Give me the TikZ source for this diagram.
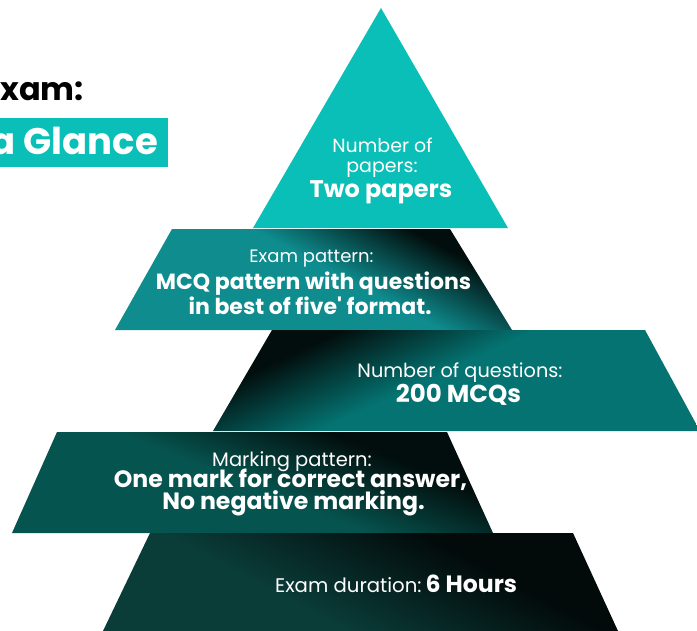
\documentclass[tikz,border=0pt]{standalone}
\usepackage{fontspec}
\setmainfont{Poppins}
\definecolor{tealA}{HTML}{09BFB7}
\definecolor{tealB}{HTML}{0E8C8E}
\definecolor{tealC}{HTML}{047371}
\definecolor{tealD}{HTML}{06544F}
\definecolor{tealE}{HTML}{0A3C38}
\definecolor{darkT}{HTML}{020E0D}
\definecolor{darkE}{HTML}{020A0A}
\pgfdeclarehorizontalshading{shB}{100bp}{color(0bp)=(tealB); color(54bp)=(tealB); color(72bp)=(darkT); color(100bp)=(darkT)}
\pgfdeclarehorizontalshading{shC}{100bp}{color(0bp)=(tealC); color(53bp)=(tealC); color(71bp)=(darkT); color(100bp)=(darkT)}
\pgfdeclarehorizontalshading{shD}{100bp}{color(0bp)=(tealD); color(49bp)=(tealD); color(68bp)=(darkT); color(100bp)=(darkT)}
\pgfdeclarehorizontalshading{shE}{100bp}{color(0bp)=(tealE); color(40bp)=(tealE); color(65bp)=(darkE); color(100bp)=(darkE)}
\newcommand{\fs}[1]{\fontsize{#1}{#1}\selectfont}
\begin{document}
\begin{tikzpicture}[x=1pt,y=-1pt,
  txt/.style={text=white,inner sep=0pt,anchor=base}]
\useasboundingbox (0,0) rectangle (697,630);
\fill[white] (0,0) rectangle (697,630);
% title
\node[anchor=base west,inner sep=0pt,font=\fs{32}\bfseries] (t1) at (0,100) {xam:};
\fill[tealA] (-2,118) rectangle (168,167);
\node[anchor=base east,inner sep=0pt,text=white,font=\fs{37}\bfseries] (t2) at (158,154) {a Glance};
% layer 1
\fill[tealA] (381,8) -- (508,228) -- (253,228) -- cycle;
% layer 2
\shade[shading=shB,shading angle=62] (172,229) -- (450,229) -- (512,330) -- (115,330) -- cycle;
% layer 3
\shade[shading=shC,shading angle=115] (272,330) -- (645,330) -- (700,431) -- (213,431) -- cycle;
% layer 4
\shade[shading=shD,shading angle=68] (57,432) -- (447,432) -- (493,533) -- (12,533) -- cycle;
% layer 5
\shade[shading=shE,shading angle=62] (150,533) -- (573,533) -- (618,631) -- (103,631) -- cycle;
% texts
\node[txt,font=\fs{19}] (a1) at (382.5,152) {Number of};
\node[txt,font=\fs{19}] (a2) at (382,172) {papers:};
\node[txt,font=\fs{24}\bfseries] (a3) at (381,197) {Two papers};
\node[txt,font=\fs{18}] (b1) at (311.5,262) {Exam pattern:};
\node[txt,font=\fs{22}\bfseries] (b2) at (313.5,289) {MCQ pattern with questions};
\node[txt,font=\fs{22}\bfseries] (b3) at (310,314) {in best of five\textquotesingle{} format.};
\node[txt,font=\fs{19.3}] (c1) at (460,377) {Number of questions:};
\node[txt,font=\fs{24.5}\bfseries] (c2) at (458.5,402) {200 MCQs};
\node[txt,font=\fs{19.5}] (d1) at (292,466) {Marking pattern:};
\node[txt,font=\fs{23.6}\bfseries] (d2) at (290.5,487.5) {One mark for correct answer,};
\node[txt,font=\fs{23.6}\bfseries] (d3) at (293.5,509) {No negative marking.};
\node[txt,anchor=base west] (e1) at (275,592) {\fs{19.7}Exam duration:\hspace{0.2em}\fs{23.6}\bfseries 6 Hours};
\end{tikzpicture}
\end{document}
